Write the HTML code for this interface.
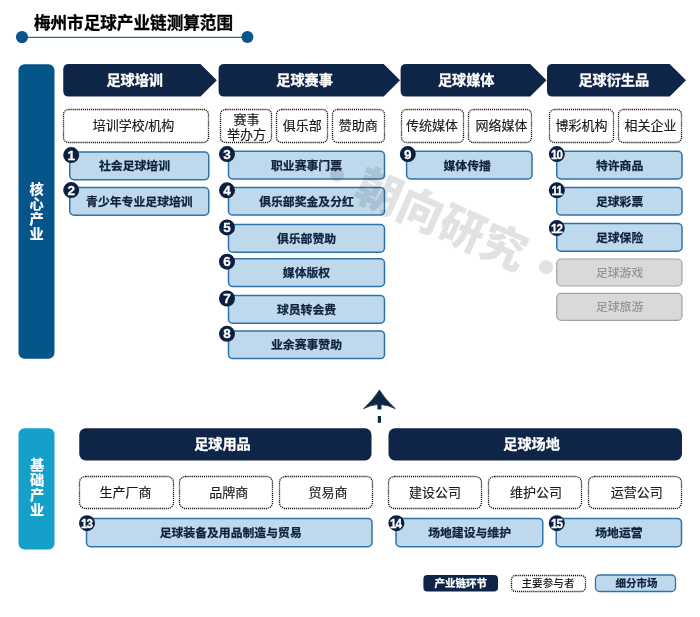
<!DOCTYPE html>
<html lang="zh-CN"><head><meta charset="utf-8"><title>梅州市足球产业链测算范围</title>
<style>
html,body{margin:0;padding:0;background:#fff;}
body{width:700px;height:617px;position:relative;overflow:hidden;font-family:"Liberation Sans","Noto Sans CJK SC",sans-serif;}
.abs{position:absolute;}
.t{position:absolute;display:flex;align-items:center;justify-content:center;text-align:center;white-space:nowrap;}
.title{left:33.9px;top:12.3px;font-size:16.6px;font-weight:bold;color:#000;-webkit-text-stroke:0.3px #000;line-height:24px;white-space:nowrap;}
.hdr{color:#fff;font-weight:bold;font-size:14.15px;-webkit-text-stroke:0.3px #fff;}
.dot{font-size:13px;color:#1a1a1a;line-height:15px;-webkit-text-stroke:0.15px #1a1a1a;}
.it{font-size:11.85px;font-weight:bold;color:#10223f;-webkit-text-stroke:0.25px #10223f;}
.gr{font-size:11.85px;color:#949494;font-weight:500;}
.num{color:#fff;font-weight:bold;font-size:13.5px;line-height:16px;width:16px;height:16px;text-align:center;-webkit-text-stroke:0.3px #fff;margin-top:0.6px;}
.num.two{letter-spacing:-1.2px;text-indent:-1.2px;transform:scaleX(0.86);font-size:13.5px;}
.bar{-webkit-text-stroke:0.2px #fff;color:#fff;font-weight:bold;font-size:14.2px;line-height:14.75px;}
.v{writing-mode:vertical-rl;letter-spacing:0.55px;line-height:36px;}
.lg{font-size:10.5px;font-weight:bold;}
.wm{left:441px;top:221px;width:0;height:0;}
.wm span{position:absolute;left:-160px;top:-32px;width:320px;height:64px;line-height:64px;text-align:center;font-size:45.5px;font-weight:900;color:rgba(30,30,30,0.13);transform:rotate(23.8deg);white-space:nowrap;}
.wm i{position:absolute;width:14px;height:14px;border-radius:50%;background:rgba(30,30,30,0.13);}
</style></head>
<body>
<div class="abs" style="left:0;top:0;width:700px;height:617px;will-change:transform;">
<svg class="abs" style="left:0;top:0" width="700" height="617" viewBox="0 0 700 617">
<line x1="22" y1="37.4" x2="247" y2="37.4" stroke="#1f6aa6" stroke-width="1.3"/>
<circle cx="22" cy="37.1" r="6.1" fill="#06558b"/><circle cx="247.4" cy="37.1" r="6" fill="#06558b"/>
<path d="M68.75,64.10 H200.50 L216.80,80.35 L200.50,96.60 H68.75 Q63.25,96.60 63.25,91.10 V69.60 Q63.25,64.10 68.75,64.10 Z" fill="#0f2548"/>
<path d="M224.10,64.10 H383.70 L400.00,80.35 L383.70,96.60 H224.10 Q218.60,96.60 218.60,91.10 V69.60 Q218.60,64.10 224.10,64.10 Z" fill="#0f2548"/>
<path d="M406.10,64.10 H530.20 L546.50,80.35 L530.20,96.60 H406.10 Q400.60,96.60 400.60,91.10 V69.60 Q400.60,64.10 406.10,64.10 Z" fill="#0f2548"/>
<path d="M552.50,64.10 H669.70 L686.00,80.35 L669.70,96.60 H552.50 Q547.00,96.60 547.00,91.10 V69.60 Q547.00,64.10 552.50,64.10 Z" fill="#0f2548"/>
<path d="M379.4,389.9 Q384.9,399 395.3,408.7 Q388,404.9 381.1,404.6 V409.1 H377.8 V404.6 Q370.9,404.9 363.5,408.7 Q373.9,399 379.4,389.9 Z" fill="#0f2548" stroke="#0f2548" stroke-width="0.7" stroke-linejoin="round"/>
<rect x="377.8" y="416" width="3.2" height="6.8" fill="#0f2548"/>
<rect x="18.50" y="64.25" width="36.00" height="294.50" rx="6.0" fill="#05548a"/>
<rect x="18.50" y="428.25" width="36.00" height="121.25" rx="6.0" fill="#15a0c9"/>
<rect x="63.50" y="109.50" width="145.00" height="33.00" rx="5.0" fill="#fff" stroke="#111" stroke-width="1.3" stroke-dasharray="1.15 0.9"/>
<rect x="220.50" y="109.50" width="51.00" height="33.00" rx="5.0" fill="#fff" stroke="#111" stroke-width="1.3" stroke-dasharray="1.15 0.9"/>
<rect x="276.50" y="109.50" width="51.00" height="33.00" rx="5.0" fill="#fff" stroke="#111" stroke-width="1.3" stroke-dasharray="1.15 0.9"/>
<rect x="332.50" y="109.50" width="52.00" height="33.00" rx="5.0" fill="#fff" stroke="#111" stroke-width="1.3" stroke-dasharray="1.15 0.9"/>
<rect x="401.50" y="109.50" width="62.00" height="33.00" rx="5.0" fill="#fff" stroke="#111" stroke-width="1.3" stroke-dasharray="1.15 0.9"/>
<rect x="468.50" y="109.50" width="63.00" height="33.00" rx="5.0" fill="#fff" stroke="#111" stroke-width="1.3" stroke-dasharray="1.15 0.9"/>
<rect x="549.50" y="109.50" width="64.00" height="33.00" rx="5.0" fill="#fff" stroke="#111" stroke-width="1.3" stroke-dasharray="1.15 0.9"/>
<rect x="618.50" y="109.50" width="63.00" height="33.00" rx="5.0" fill="#fff" stroke="#111" stroke-width="1.3" stroke-dasharray="1.15 0.9"/>
<rect x="69.75" y="152.00" width="139.00" height="27.70" rx="4.2" fill="#bed9ec" stroke="#2e73ac" stroke-width="1.5"/>
<rect x="69.75" y="187.60" width="139.00" height="27.70" rx="4.2" fill="#bed9ec" stroke="#2e73ac" stroke-width="1.5"/>
<rect x="228.50" y="151.20" width="156.00" height="27.70" rx="4.2" fill="#bed9ec" stroke="#2e73ac" stroke-width="1.5"/>
<rect x="228.50" y="187.40" width="156.00" height="27.70" rx="4.2" fill="#bed9ec" stroke="#2e73ac" stroke-width="1.5"/>
<rect x="228.50" y="224.50" width="156.00" height="27.70" rx="4.2" fill="#bed9ec" stroke="#2e73ac" stroke-width="1.5"/>
<rect x="228.50" y="258.80" width="156.00" height="27.70" rx="4.2" fill="#bed9ec" stroke="#2e73ac" stroke-width="1.5"/>
<rect x="228.50" y="295.60" width="156.00" height="27.70" rx="4.2" fill="#bed9ec" stroke="#2e73ac" stroke-width="1.5"/>
<rect x="228.50" y="330.90" width="156.00" height="27.70" rx="4.2" fill="#bed9ec" stroke="#2e73ac" stroke-width="1.5"/>
<rect x="406.60" y="151.20" width="125.40" height="27.70" rx="4.2" fill="#bed9ec" stroke="#2e73ac" stroke-width="1.5"/>
<rect x="556.75" y="151.20" width="125.25" height="27.70" rx="4.2" fill="#bed9ec" stroke="#2e73ac" stroke-width="1.5"/>
<rect x="556.75" y="187.40" width="125.25" height="27.70" rx="4.2" fill="#bed9ec" stroke="#2e73ac" stroke-width="1.5"/>
<rect x="556.75" y="223.60" width="125.25" height="27.70" rx="4.2" fill="#bed9ec" stroke="#2e73ac" stroke-width="1.5"/>
<rect x="556.75" y="259.00" width="125.25" height="27.00" rx="4.5" fill="#d9d9d9" stroke="#a3a3a3" stroke-width="1.2"/>
<rect x="556.75" y="293.30" width="125.25" height="27.00" rx="4.5" fill="#d9d9d9" stroke="#a3a3a3" stroke-width="1.2"/>
<rect x="79.25" y="428.25" width="292.25" height="32.25" rx="6.5" fill="#0f2548"/>
<rect x="388.50" y="428.25" width="293.50" height="32.25" rx="6.5" fill="#0f2548"/>
<rect x="79.50" y="476.50" width="94.00" height="32.00" rx="6.0" fill="#fff" stroke="#111" stroke-width="1.3" stroke-dasharray="1.15 0.9"/>
<rect x="179.50" y="476.50" width="93.00" height="32.00" rx="6.0" fill="#fff" stroke="#111" stroke-width="1.3" stroke-dasharray="1.15 0.9"/>
<rect x="279.50" y="476.50" width="93.00" height="32.00" rx="6.0" fill="#fff" stroke="#111" stroke-width="1.3" stroke-dasharray="1.15 0.9"/>
<rect x="388.50" y="476.50" width="93.00" height="32.00" rx="6.0" fill="#fff" stroke="#111" stroke-width="1.3" stroke-dasharray="1.15 0.9"/>
<rect x="488.50" y="476.50" width="93.00" height="32.00" rx="6.0" fill="#fff" stroke="#111" stroke-width="1.3" stroke-dasharray="1.15 0.9"/>
<rect x="588.50" y="476.50" width="93.00" height="32.00" rx="6.0" fill="#fff" stroke="#111" stroke-width="1.3" stroke-dasharray="1.15 0.9"/>
<rect x="86.50" y="518.40" width="285.50" height="28.30" rx="4.2" fill="#bed9ec" stroke="#2e73ac" stroke-width="1.5"/>
<rect x="396.00" y="518.40" width="146.75" height="28.30" rx="4.2" fill="#bed9ec" stroke="#2e73ac" stroke-width="1.5"/>
<rect x="556.25" y="518.40" width="125.25" height="28.30" rx="4.2" fill="#bed9ec" stroke="#2e73ac" stroke-width="1.5"/>
<rect x="423.40" y="575.00" width="74.60" height="16.60" rx="4.0" fill="#0f2548"/>
<rect x="511.50" y="575.50" width="74.00" height="16.00" rx="4.0" fill="#fff" stroke="#111" stroke-width="1.3" stroke-dasharray="1.15 0.9"/>
<rect x="595.50" y="575.00" width="80.00" height="16.50" rx="4.0" fill="#bed9ec" stroke="#2e73ac" stroke-width="1.3"/>
<circle cx="71.20" cy="155.10" r="8" fill="#0d1f40"/>
<circle cx="71.20" cy="190.10" r="8" fill="#0d1f40"/>
<circle cx="227.00" cy="154.10" r="8" fill="#0d1f40"/>
<circle cx="227.00" cy="190.30" r="8" fill="#0d1f40"/>
<circle cx="227.00" cy="227.40" r="8" fill="#0d1f40"/>
<circle cx="227.00" cy="261.70" r="8" fill="#0d1f40"/>
<circle cx="227.00" cy="298.50" r="8" fill="#0d1f40"/>
<circle cx="227.00" cy="333.80" r="8" fill="#0d1f40"/>
<circle cx="407.80" cy="154.10" r="8" fill="#0d1f40"/>
<circle cx="556.85" cy="154.10" r="8" fill="#0d1f40"/>
<circle cx="556.85" cy="190.30" r="8" fill="#0d1f40"/>
<circle cx="556.85" cy="228.10" r="8" fill="#0d1f40"/>
<circle cx="87.00" cy="523.20" r="8" fill="#0d1f40"/>
<circle cx="396.40" cy="523.20" r="8" fill="#0d1f40"/>
<circle cx="556.80" cy="523.20" r="8" fill="#0d1f40"/>
</svg>
<div class="abs title">梅州市足球产业链测算范围</div>
<div class="t hdr" style="left:74.70px;top:62.55px;width:120.00px;height:32.50px;">足球培训</div>
<div class="t hdr" style="left:244.60px;top:62.55px;width:120.00px;height:32.50px;">足球赛事</div>
<div class="t hdr" style="left:406.20px;top:62.55px;width:120.00px;height:32.50px;">足球媒体</div>
<div class="t hdr" style="left:553.80px;top:62.55px;width:120.00px;height:32.50px;">足球衍生品</div>
<div class="t bar" style="left:17.50px;top:182.15px;width:36.00px;height:58.00px;"><span class="v">核心产业</span></div>
<div class="t bar" style="left:18.20px;top:458.30px;width:36.00px;height:58.50px;"><span class="v">基础产业</span></div>
<div class="t dot" style="left:53.50px;top:108.70px;width:160.00px;height:33.80px;">培训学校/机构</div>
<div class="t dot" style="left:166.40px;top:108.70px;width:160.00px;height:33.80px;"><span style="line-height:15.3px;position:relative;top:1.85px">赛事<br>举办方</span></div>
<div class="t dot" style="left:222.30px;top:108.70px;width:160.00px;height:33.80px;">俱乐部</div>
<div class="t dot" style="left:278.30px;top:108.70px;width:160.00px;height:33.80px;">赞助商</div>
<div class="t dot" style="left:351.90px;top:108.70px;width:160.00px;height:33.80px;">传统媒体</div>
<div class="t dot" style="left:421.60px;top:108.70px;width:160.00px;height:33.80px;">网络媒体</div>
<div class="t dot" style="left:501.60px;top:108.70px;width:160.00px;height:33.80px;">博彩机构</div>
<div class="t dot" style="left:570.40px;top:108.70px;width:160.00px;height:33.80px;">相关企业</div>
<div class="t it" style="left:34.50px;top:150.50px;width:200.00px;height:28.70px;">社会足球培训</div>
<div class="abs num" style="left:63.20px;top:147.10px;">1</div>
<div class="t it" style="left:39.40px;top:186.10px;width:200.00px;height:28.70px;">青少年专业足球培训</div>
<div class="abs num" style="left:63.20px;top:182.10px;">2</div>
<div class="t it" style="left:206.50px;top:149.70px;width:200.00px;height:28.70px;">职业赛事门票</div>
<div class="abs num" style="left:219.00px;top:146.10px;">3</div>
<div class="t it" style="left:206.50px;top:185.90px;width:200.00px;height:28.70px;">俱乐部奖金及分红</div>
<div class="abs num" style="left:219.00px;top:182.30px;">4</div>
<div class="t it" style="left:206.50px;top:223.00px;width:200.00px;height:28.70px;">俱乐部赞助</div>
<div class="abs num" style="left:219.00px;top:219.40px;">5</div>
<div class="t it" style="left:206.50px;top:257.30px;width:200.00px;height:28.70px;">媒体版权</div>
<div class="abs num" style="left:219.00px;top:253.70px;">6</div>
<div class="t it" style="left:206.50px;top:294.10px;width:200.00px;height:28.70px;">球员转会费</div>
<div class="abs num" style="left:219.00px;top:290.50px;">7</div>
<div class="t it" style="left:206.50px;top:329.40px;width:200.00px;height:28.70px;">业余赛事赞助</div>
<div class="abs num" style="left:219.00px;top:325.80px;">8</div>
<div class="t it" style="left:367.20px;top:149.70px;width:200.00px;height:28.70px;">媒体传播</div>
<div class="abs num" style="left:399.80px;top:146.10px;">9</div>
<div class="t it" style="left:519.60px;top:149.70px;width:200.00px;height:28.70px;">特许商品</div>
<div class="abs num two" style="left:548.85px;top:146.10px;">10</div>
<div class="t it" style="left:519.60px;top:185.90px;width:200.00px;height:28.70px;">足球彩票</div>
<div class="abs num two" style="left:548.85px;top:182.30px;">11</div>
<div class="t it" style="left:519.60px;top:222.10px;width:200.00px;height:28.70px;">足球保险</div>
<div class="abs num two" style="left:548.85px;top:220.10px;">12</div>
<div class="t gr" style="left:519.60px;top:257.50px;width:200.00px;height:28.00px;">足球游戏</div>
<div class="t gr" style="left:519.60px;top:291.80px;width:200.00px;height:28.00px;">足球旅游</div>
<div class="t hdr" style="left:76.35px;top:427.25px;width:292.25px;height:32.25px;">足球用品</div>
<div class="t hdr" style="left:384.80px;top:427.25px;width:293.50px;height:32.25px;">足球场地</div>
<div class="t dot" style="left:45.50px;top:475.10px;width:160.00px;height:34.00px;">生产厂商</div>
<div class="t dot" style="left:148.80px;top:475.10px;width:160.00px;height:34.00px;">品牌商</div>
<div class="t dot" style="left:248.00px;top:475.10px;width:160.00px;height:34.00px;">贸易商</div>
<div class="t dot" style="left:354.90px;top:475.10px;width:160.00px;height:34.00px;">建设公司</div>
<div class="t dot" style="left:456.10px;top:475.10px;width:160.00px;height:34.00px;">维护公司</div>
<div class="t dot" style="left:556.70px;top:475.10px;width:160.00px;height:34.00px;">运营公司</div>
<div class="t it" style="left:130.70px;top:516.90px;width:200.00px;height:29.30px;">足球装备及用品制造与贸易</div>
<div class="abs num two" style="left:79.00px;top:515.20px;">13</div>
<div class="t it" style="left:369.60px;top:516.90px;width:200.00px;height:29.30px;">场地建设与维护</div>
<div class="abs num two" style="left:388.40px;top:515.20px;">14</div>
<div class="t it" style="left:518.90px;top:516.90px;width:200.00px;height:29.30px;">场地运营</div>
<div class="abs num two" style="left:548.80px;top:515.20px;">15</div>
<div class="t lg" style="left:423.40px;top:574.50px;width:74.60px;height:16.60px;color:#fff;-webkit-text-stroke:0.25px #fff;">产业链环节</div>
<div class="t lg" style="left:468.00px;top:574.20px;width:160.00px;height:17.40px;font-weight:500;font-size:10.6px;color:#1a1a1a;-webkit-text-stroke:0;">主要参与者</div>
<div class="t lg it" style="left:596.00px;top:574.00px;width:81.00px;height:17.50px;font-size:10.5px;">细分市场</div>
<div class="abs wm"><span>朝向研究</span><i style="left:-111.3px;top:-52.7px"></i><i style="left:97.9px;top:39.4px"></i></div>
</div>
</body></html>
